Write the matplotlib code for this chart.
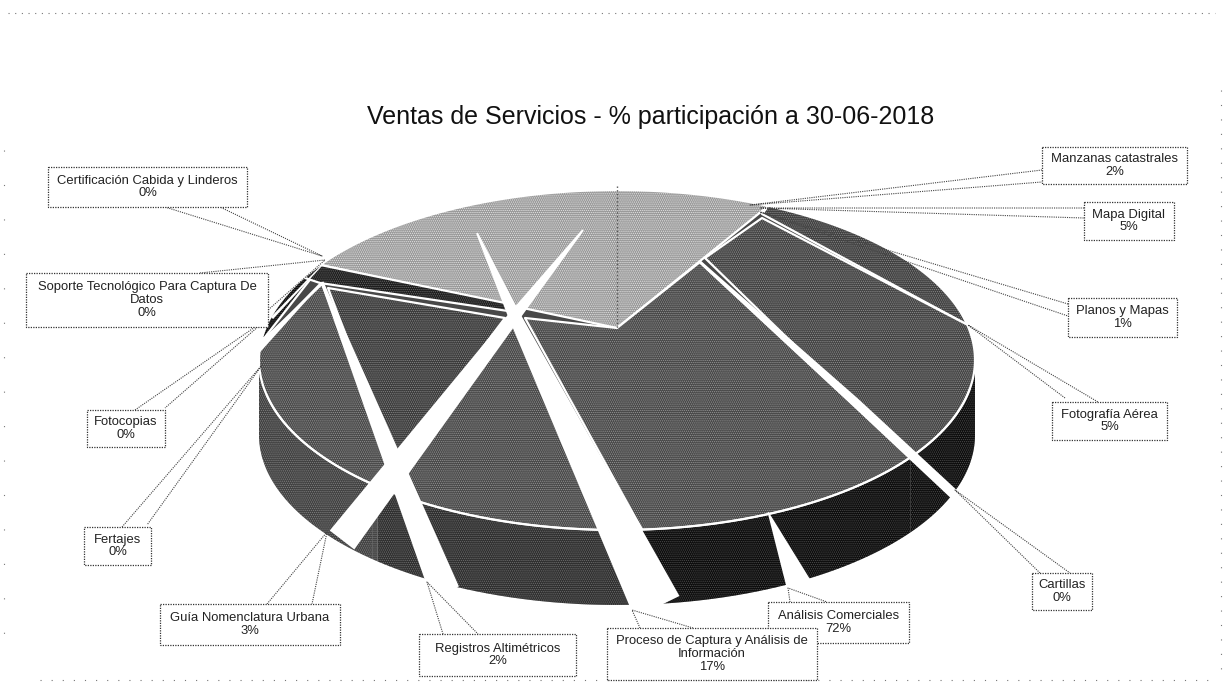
#!/usr/bin/env python
"""Ventas de Servicios, scanned 3D pie with callouts."""

import numpy as np
import matplotlib.pyplot as plt
from matplotlib.colors import to_rgb
from matplotlib.patches import Polygon, Rectangle

plt.rcParams['font.family'] = ['Liberation Sans', 'DejaVu Sans']
plt.rcParams['hatch.linewidth'] = 0.6

# slices clockwise from the upper left rim
slice_names = ['Manzanas catastrales', 'Planos y Mapas', 'Fotografía Aérea',
               'Análisis Comerciales', 'Proceso de Captura y Análisis de\nInformación',
               'Registros Altimétricos', 'Guía Nomenclatura Urbana', 'Fertajes',
               'Certificación Cabida y Linderos']
# arc seen on the rim, degrees
slice_arcs = [81, 53, 47, 51, 46, 1, 53, 23, 5]
slice_greys = ['#989898', '#3e3e3e', '#424242', '#484848', '#484848',
               '#3a3a3a', '#484848', '#0c0c0c', '#1c1c1c']
side_greys = ['#000000', '#000000', '#0c0c0c', '#0c0c0c', '#2e2e2e',
              '#404040', '#404040', '#000000', '#000000']

# callout texts
label_names = ['Manzanas catastrales', 'Mapa Digital', 'Planos y Mapas',
               'Fotografía Aérea', 'Cartillas', 'Análisis Comerciales',
               'Proceso de Captura y Análisis de\nInformación',
               'Registros Altimétricos', 'Guía Nomenclatura Urbana', 'Fertajes',
               'Fotocopias', 'Soporte Tecnológico Para Captura De\nDatos',
               'Certificación Cabida y Linderos']
label_pcts = ['2%', '5%', '1%', '5%', '0%', '72%', '17%', '2%', '3%', '0%', '0%', '0%', '0%']

# layout, all in picture pixels
cx, cy, rx, ry = 617, 360, 358, 170
depth = 75
start_angle = 304
# inner corners of each slice, from arc end back to arc start
inner = [[(617, 328)],
         [(762, 214)],
         [(705, 258), (762, 218)],
         [(525, 318), (617, 328), (700, 262)],
         [(513, 318)],
         [(395, 465), (328, 288), (505, 318)],
         [(322, 284), (392, 462)],
         [(316, 272)],
         [(505, 303), (508, 311), (320, 283)]]
boxes = [(1042, 147, 1187, 184), (1084, 202, 1174, 240), (1068, 298, 1177, 337),
         (1052, 402, 1167, 440), (1032, 573, 1092, 610), (768, 602, 909, 643),
         (607, 628, 817, 680), (419, 634, 576, 676), (160, 604, 340, 645),
         (84, 527, 151, 565), (87, 410, 165, 447), (26, 273, 268, 327),
         (48, 167, 247, 207)]
leaders = [[(1042, 170), (750, 205), (1042, 182)],
           [(1084, 208), (760, 208), (1084, 218)],
           [(1068, 304), (760, 212), (1068, 316)],
           [(1065, 398), (968, 325), (1098, 402)],
           [(1040, 573), (955, 490), (1070, 573)],
           [(790, 602), (788, 588), (827, 602)],
           [(640, 628), (632, 610), (693, 628)],
           [(443, 634), (427, 582), (478, 634)],
           [(267, 604), (327, 532), (312, 604)],
           [(122, 527), (262, 365), (147, 525)],
           [(135, 410), (268, 318), (165, 408)],
           [(200, 273), (325, 260), (268, 310)],
           [(165, 207), (322, 256), (220, 207)]]
# white gaps as centre line points with a width each
gaps = [[(477, 233, 2), (513, 313, 12), (657, 607, 50)],
        [(583, 230, 2), (513, 318, 12), (342, 540, 31)],
        [(322, 282, 3), (445, 592, 30)],
        [(700, 262, 3), (855, 402, 9), (958, 498, 10)],
        [(768, 512, 1), (801, 590, 27)],
        [(320, 284, 2), (258, 350, 6)],
        [(325, 262, 1), (272, 318, 3)]]


def rim(angle, dy=0):
    t = np.radians(angle)
    return np.column_stack([cx + rx * np.sin(t), cy - ry * np.cos(t) + dy])


def gap_polygon(pts):
    pts = np.array(pts, dtype=float)
    xy, w = pts[:, :2], pts[:, 2]
    d = np.gradient(xy, axis=0)
    d /= np.linalg.norm(d, axis=1, keepdims=True)
    n = np.column_stack([-d[:, 1], d[:, 0]]) * w[:, None] / 2
    return np.vstack([xy + n, (xy - n)[::-1]])


def dots(grey, extra):
    return tuple(min(c + extra, 1) for c in to_rgb(grey))


fig = plt.figure(figsize=(12.25, 6.87), dpi=100)
ax = fig.add_axes([0, 0, 1, 1])
ax.set_xlim(0, 1225)
ax.set_ylim(687, 0)
ax.axis('off')

bounds = start_angle + np.cumsum([0] + slice_arcs)

# side of the cake, only the near half of the rim shows
for i, arc in enumerate(slice_arcs):
    t0, t1 = max(bounds[i] % 360, 90), min(bounds[i] % 360 + arc, 270)
    if bounds[i] % 360 > 270 or t1 <= t0:
        continue
    t = np.linspace(t0, t1, 80)
    ax.add_patch(Polygon(np.vstack([rim(t), rim(t[::-1], depth)]), fc=side_greys[i],
                         ec=dots(side_greys[i], 0.25), hatch='........', lw=0))

# top face, one polygon per slice
ax.add_patch(Polygon(rim(np.linspace(0, 360, 300)), fc='#484848', ec='none'))
for i, arc in enumerate(slice_arcs):
    t = np.linspace(bounds[i], bounds[i + 1], max(arc * 2, 2))
    xy = np.vstack([rim(t), np.array(inner[i], dtype=float)])
    ax.add_patch(Polygon(xy, fc=slice_greys[i], ec=dots(slice_greys[i], 0.3),
                         hatch='........', lw=0))
    ax.add_patch(Polygon(xy, fc='none', ec='white', lw=1.6, joinstyle='round'))

# rim line between top and side
ax.plot(*rim(np.linspace(100, 258, 200)).T, color='white', lw=1.4)

# seam in the light slice
ax.plot([617, 617], [186, 328], color='#555555', lw=1, ls=':')

# gaps between the exploded slices
for g in gaps:
    ax.add_patch(Polygon(gap_polygon(g), fc='white', ec='none'))

# callouts
for box, lead, name, pct in zip(boxes, leaders, label_names, label_pcts):
    x0, y0, x1, y1 = box
    ax.plot(*np.array(lead).T, color='#444444', lw=0.8, ls=(0, (1, 1)))
    ax.add_patch(Rectangle((x0, y0), x1 - x0, y1 - y0, fc='white', ec='#333333',
                           lw=0.9, ls=(0, (1, 1)), zorder=3))
    ax.text((x0 + x1) / 2, (y0 + y1) / 2, name + '\n' + pct, ha='center', va='center',
            fontsize=9.4, color='#222222', linespacing=1.1, zorder=4)

ax.text(651, 117, 'Ventas de Servicios - % participación a 30-06-2018', ha='center',
        va='center', fontsize=18, color='#111111')

# scan specks along the page edges
ax.plot([8, 1215], [13, 13], color='#777777', lw=0.8, ls=(0, (1, 5)))
ax.plot([40, 1215], [680, 680], color='#777777', lw=0.8, ls=(0, (1, 9)))
ax.plot([1221, 1221], [90, 680], color='#777777', lw=0.8, ls=(0, (1, 12)))
ax.plot([4, 4], [150, 640], color='#777777', lw=0.8, ls=(0, (1, 30)))

fig.savefig('out.png', dpi=100)
